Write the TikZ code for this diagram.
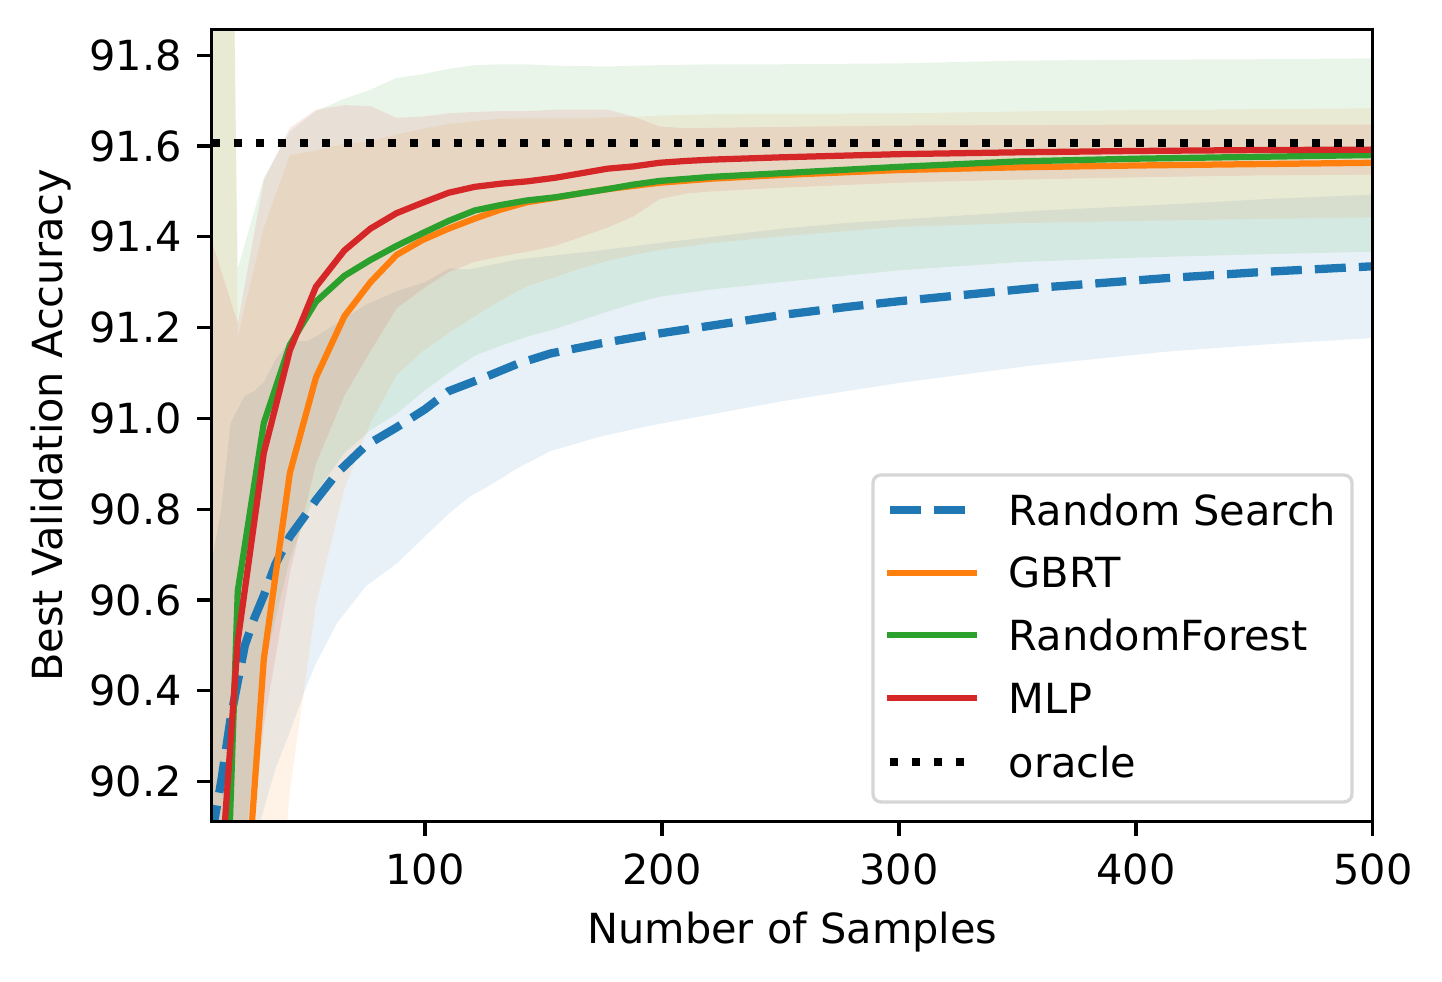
\documentclass[tikz,border=0pt]{standalone}
\usepackage{fontspec}
\setmainfont{DejaVu Sans}
\usepackage{tikz}
\usetikzlibrary{positioning}
\definecolor{tabblue}{HTML}{1F77B4}
\definecolor{taborange}{HTML}{FF7F0E}
\definecolor{tabgreen}{HTML}{2CA02C}
\definecolor{tabred}{HTML}{D62728}
\definecolor{legendedge}{HTML}{D6D6D6}
\tikzstyle{rsline} = [tabblue, line width=0.083cm, dash pattern=on 0.31cm off 0.13cm]
\tikzstyle{gbrtline} = [taborange, line width=0.0625cm, line join=round]
\tikzstyle{rfline} = [tabgreen, line width=0.0625cm, line join=round]
\tikzstyle{mlpline} = [tabred, line width=0.0625cm, line join=round]
\tikzstyle{oracleline} = [black, line width=0.083cm, dash pattern=on 0.083cm off 0.137cm]
\tikzstyle{spine} = [black, line width=0.033cm]
\tikzstyle{ticklab} = [inner sep=0pt]

% x / mean / std
\def\rsdata{10/90.08/0.6, 14/90.2/0.6, 18/90.34/0.65, 21/90.42/0.6, 24/90.5/0.55,
  28/90.56/0.5, 32/90.61/0.47, 37/90.68/0.45, 43/90.74/0.43, 50/90.79/0.38,
  54/90.82/0.36, 63/90.88/0.33, 75/90.94/0.31, 88/90.98/0.3, 100/91.02/0.28,
  110/91.06/0.27, 119/91.078/0.25, 125/91.09/0.245, 139/91.12/0.23,
  153/91.143/0.215, 174/91.165/0.205, 195/91.184/0.2, 223/91.206/0.195,
  251/91.228/0.19, 279/91.246/0.185, 300/91.258/0.18, 357/91.287/0.17,
  413/91.309/0.162, 455/91.323/0.16, 500/91.335/0.158}
\def\gbrtdata{10/88.5/8.5, 21/89.68/1.5, 32/90.47/0.95, 43/90.88/0.7,
  54/91.09/0.5, 66/91.225/0.38, 77/91.3/0.31, 88/91.36/0.265, 99/91.393/0.245,
  110/91.418/0.23, 121/91.44/0.215, 132/91.46/0.2, 143/91.476/0.185,
  155/91.486/0.175, 166/91.496/0.165, 177/91.505/0.158, 188/91.512/0.152,
  199/91.519/0.148, 221/91.528/0.142, 250/91.536/0.135, 300/91.547/0.125,
  350/91.553/0.123, 400/91.557/0.122, 450/91.56/0.121, 500/91.563/0.12}
\def\rfdata{10/88.93/6.6, 21/90.62/0.71, 32/90.99/0.54, 43/91.162/0.47,
  54/91.257/0.42, 66/91.314/0.39, 77/91.349/0.375, 88/91.38/0.37,
  99/91.408/0.35, 110/91.435/0.335, 121/91.458/0.32, 132/91.47/0.31,
  143/91.48/0.3, 155/91.487/0.29, 166/91.496/0.28, 177/91.505/0.27,
  188/91.515/0.262, 199/91.523/0.255, 221/91.532/0.248, 250/91.54/0.24,
  300/91.554/0.228, 350/91.566/0.222, 400/91.572/0.218, 450/91.576/0.215,
  500/91.58/0.213}
\def\mlpdata{10/89.7/1.69, 21/90.51/0.7, 32/90.924/0.6, 43/91.15/0.49,
  54/91.29/0.39, 66/91.37/0.32, 77/91.418/0.27, 88/91.452/0.21,
  99/91.475/0.19, 110/91.497/0.175, 121/91.51/0.165, 132/91.517/0.16,
  143/91.522/0.155, 155/91.53/0.15, 166/91.54/0.14, 177/91.55/0.13,
  188/91.555/0.11, 199/91.563/0.08, 210/91.567/0.072, 221/91.57/0.07,
  250/91.575/0.067, 300/91.582/0.063, 350/91.586/0.06, 400/91.589/0.058,
  450/91.591/0.056, 500/91.592/0.055}

% shaded band mean +- std
\newcommand{\drawband}[2]{%
  \gdef\bandlo{}\gdef\bandup{}%
  \foreach \x/\m/\s in #2 {%
    \pgfmathsetmacro\vlo{\m-\s-90}%
    \pgfmathsetmacro\vhi{\m+\s-90}%
    \xdef\bandlo{(\x,\vlo) -- \bandlo}%
    \xdef\bandup{\bandup (\x,\vhi) -- }%
  }%
  \fill[#1, fill opacity=0.1] \bandlo \bandup cycle;
}
% mean curve
\newcommand{\drawmean}[2]{%
  \gdef\meanpath{}%
  \foreach \x/\m/\s [count=\i] in #2 {%
    \pgfmathsetmacro\vmid{\m-90}%
    \ifnum\i=1 \xdef\meanpath{(\x,\vmid)}\else \xdef\meanpath{\meanpath -- (\x,\vmid)}\fi
  }%
  \draw[#1] \meanpath;
}

\begin{document}
\begin{tikzpicture}[every node/.style={font=\fontsize{11.8}{14}\selectfont}]
\useasboundingbox (0,0) rectangle (14.42,9.82);

\begin{scope}[shift={(1.88,1.096)}, x=0.0237cm, y=4.54cm]
  \begin{scope}
    \clip (10,0.112) rectangle (500,1.857);
    \drawband{tabblue}{\rsdata}
    \drawband{taborange}{\gbrtdata}
    \drawband{tabgreen}{\rfdata}
    \drawband{tabred}{\mlpdata}
    \drawmean{rsline}{\rsdata}
    \drawmean{gbrtline}{\gbrtdata}
    \drawmean{rfline}{\rfdata}
    \drawmean{mlpline}{\mlpdata}
    \coordinate (oraclel) at (10,1.606);
    \coordinate (oracler) at (500,1.606);
    \draw[oracleline] (oraclel) -- (oracler);
  \end{scope}

  % axes
  \draw[spine] (10,0.112) rectangle (500,1.857);
  \foreach \v [count=\i] in {90.2,90.4,90.6,90.8,91.0,91.2,91.4,91.6,91.8} {
    \draw[spine] (10,\v-90) -- ++(-0.146cm,0);
    \node[ticklab, anchor=east] (ytick\i) at ([xshift=-0.292cm]10,\v-90) {\v};
  }
  \foreach \v [count=\i] in {100,200,300,400,500} {
    \draw[spine] (\v,0.112) -- ++(0,-0.146cm);
    \node[ticklab, anchor=north] (xtick\i) at ([yshift=-0.31cm]\v,0.112) {\v};
  }
\end{scope}

\node (xlabel) at (7.924,0.50) {Number of Samples};
\node[rotate=90] (ylabel) at (0.51,5.565) {Best Validation Accuracy};

% legend
\draw[legendedge, line width=0.033cm, rounded corners=0.08cm, fill=white, fill opacity=0.8] (8.73,1.80) rectangle (13.52,5.07);
\draw[rsline] (8.90,4.72) -- (9.77,4.72);
\node[ticklab, anchor=west] (legrs) at (10.08,4.72) {Random Search};
\draw[gbrtline] (8.87,4.093) -- (9.77,4.093);
\node[ticklab, anchor=west] (leggbrt) at (10.08,4.093) {GBRT};
\draw[rfline] (8.87,3.47) -- (9.77,3.47);
\node[ticklab, anchor=west] (legrf) at (10.08,3.47) {RandomForest};
\draw[mlpline] (8.87,2.84) -- (9.77,2.84);
\node[ticklab, anchor=west] (legmlp) at (10.08,2.84) {MLP};
\draw[oracleline] (8.90,2.203) -- (9.77,2.203);
\node[ticklab, anchor=west] (legoracle) at (10.08,2.203) {oracle};
\end{tikzpicture}
\end{document}
